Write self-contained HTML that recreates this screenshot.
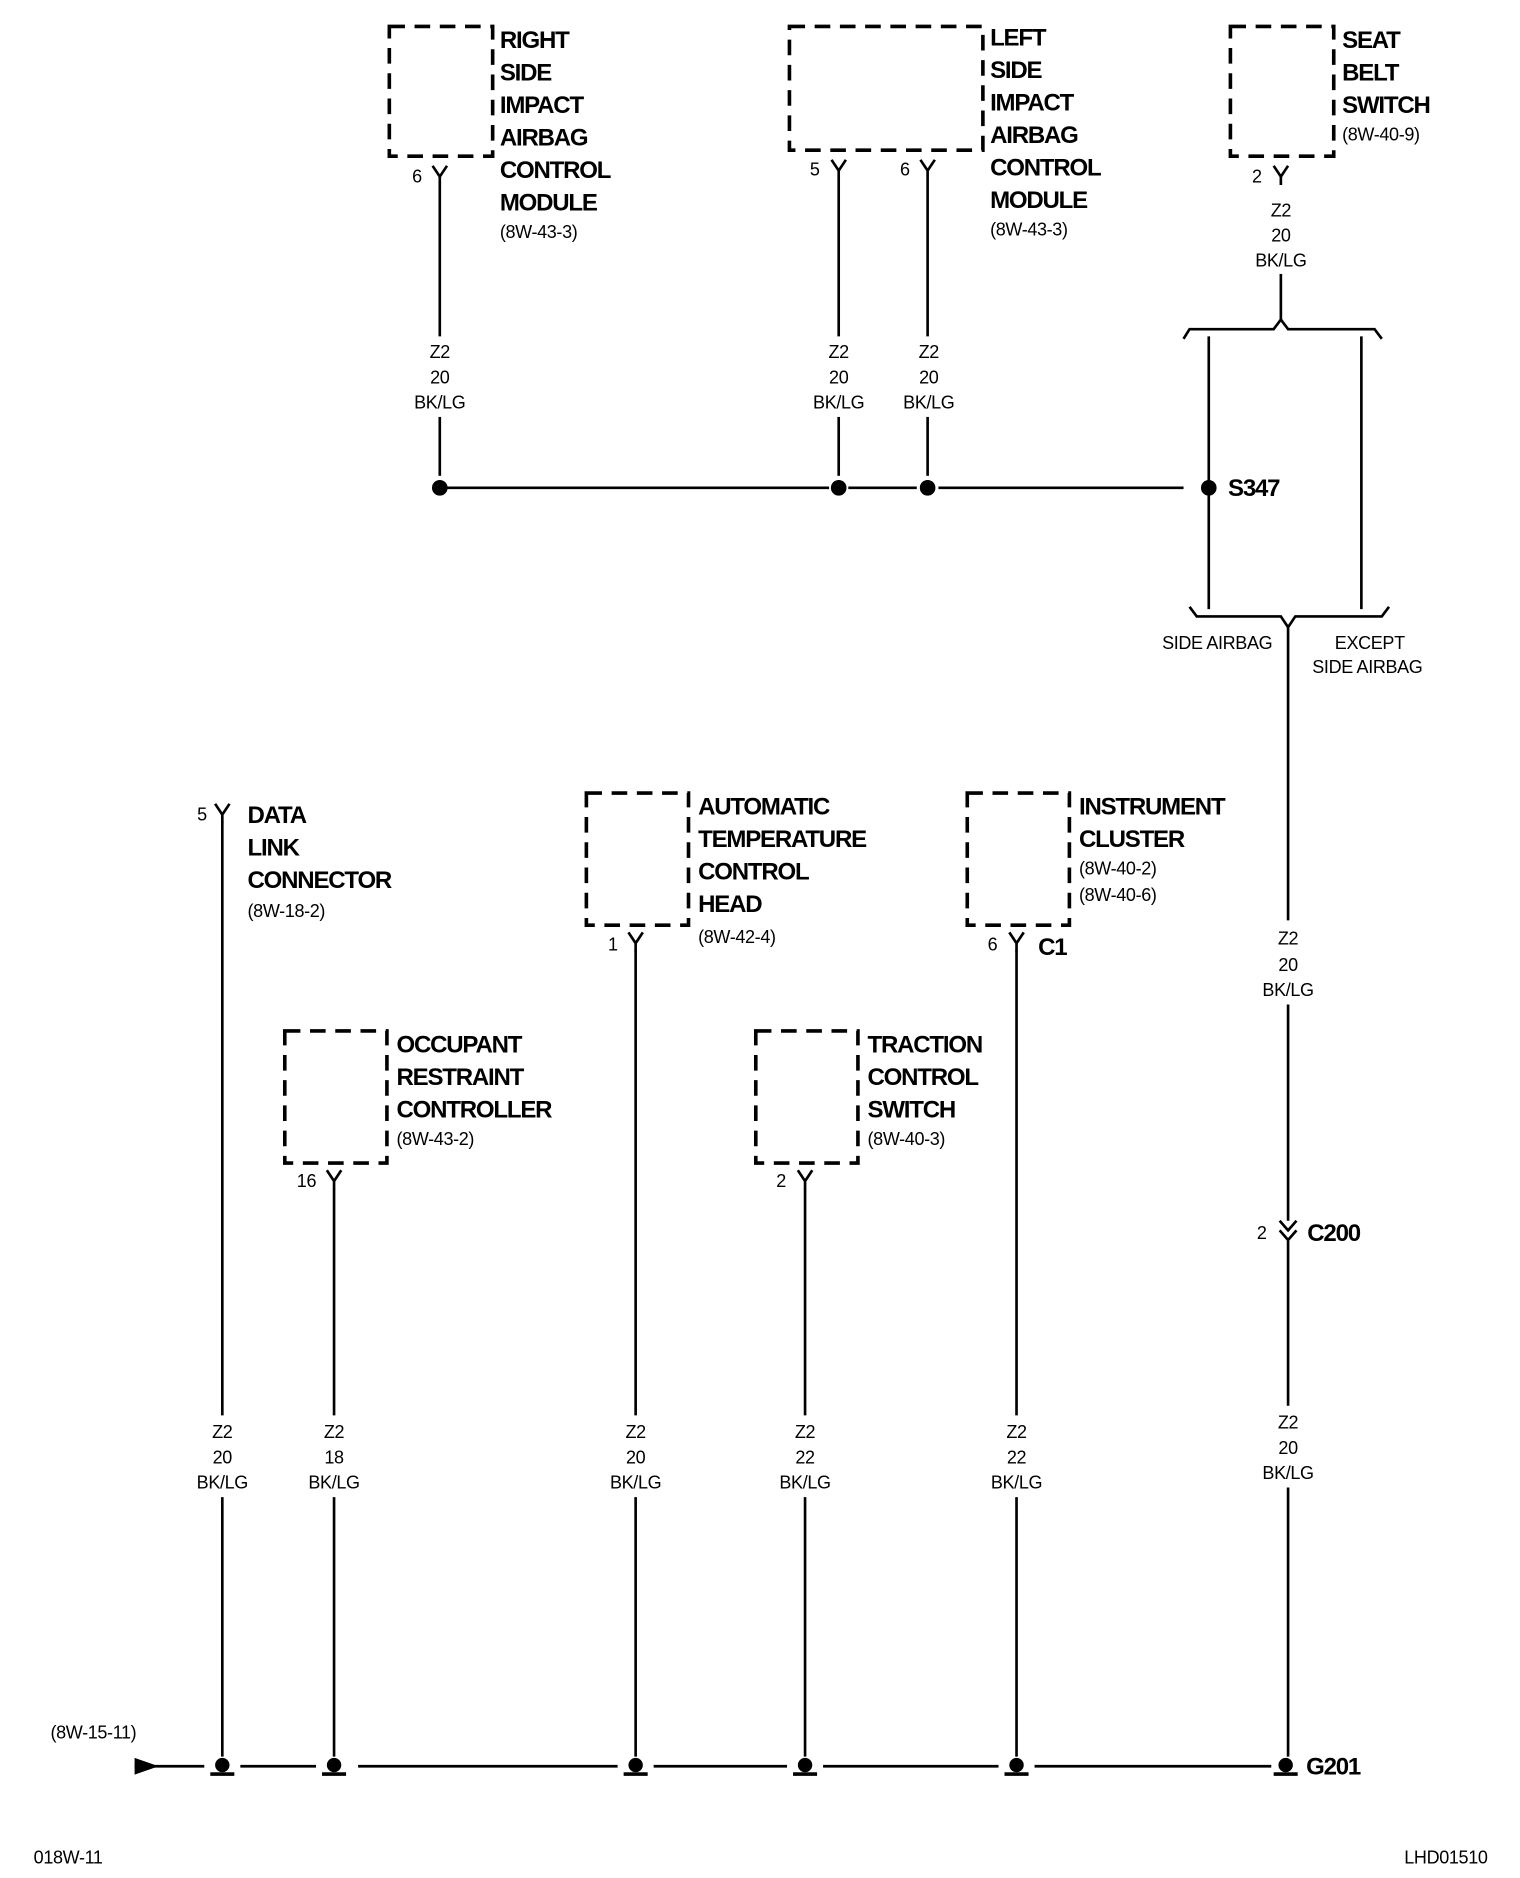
<!DOCTYPE html>
<html><head><meta charset="utf-8"><style>
html,body{margin:0;padding:0;background:#fff;}
svg{display:block;}
.t{font-family:"Liberation Sans Narrow","Liberation Sans",sans-serif;font-weight:bold;font-size:20px;letter-spacing:-1px;fill:#000;}
.s{font-family:"Liberation Sans Narrow","Liberation Sans",sans-serif;font-size:15px;fill:#000;letter-spacing:-0.3px;}
.c{text-anchor:middle;}
.box{fill:none;stroke:#000;stroke-width:3;stroke-dasharray:13 8;}
.w{stroke:#000;stroke-width:2.2;fill:none;}
</style></head><body>
<svg width="1520" height="1878" viewBox="0 0 1265 1563" xmlns="http://www.w3.org/2000/svg">
<defs>
<g id="Y"><path d="M-6,0 L0,9 L6,0 M0,9 L0,16" class="w"/></g>
<g id="G"><circle cx="0" cy="0" r="6" fill="#000"/><rect x="-10" y="6" width="20" height="3" fill="#000"/></g>
</defs>

<rect class="box" x="324" y="22" width="86" height="108"/>
<use href="#Y" x="366" y="138"/>
<text class="s" x="343" y="152">6</text>
<line class="w" x1="366" y1="154" x2="366" y2="280"/>
<text class="s c" x="366" y="298">Z2</text><text class="s c" x="366" y="319">20</text><text class="s c" x="366" y="340">BK/LG</text>
<line class="w" x1="366" y1="347" x2="366" y2="396"/>
<text class="t" x="416" y="40">RIGHT</text><text class="t" x="416" y="67">SIDE</text><text class="t" x="416" y="94">IMPACT</text><text class="t" x="416" y="121">AIRBAG</text><text class="t" x="416" y="148">CONTROL</text><text class="t" x="416" y="175">MODULE</text><text class="s" x="416" y="198">(8W-43-3)</text>

<rect class="box" x="657" y="22" width="161" height="103"/>
<use href="#Y" x="698" y="133"/><use href="#Y" x="772" y="133"/>
<text class="s" x="674" y="146">5</text><text class="s" x="749" y="146">6</text>
<line class="w" x1="698" y1="149" x2="698" y2="280"/><line class="w" x1="772" y1="149" x2="772" y2="280"/>
<text class="s c" x="698" y="298">Z2</text><text class="s c" x="698" y="319">20</text><text class="s c" x="698" y="340">BK/LG</text>
<text class="s c" x="773" y="298">Z2</text><text class="s c" x="773" y="319">20</text><text class="s c" x="773" y="340">BK/LG</text>
<line class="w" x1="698" y1="347" x2="698" y2="396"/><line class="w" x1="772" y1="347" x2="772" y2="396"/>
<text class="t" x="824" y="38">LEFT</text><text class="t" x="824" y="65">SIDE</text><text class="t" x="824" y="92">IMPACT</text><text class="t" x="824" y="119">AIRBAG</text><text class="t" x="824" y="146">CONTROL</text><text class="t" x="824" y="173">MODULE</text><text class="s" x="824" y="196">(8W-43-3)</text>

<rect class="box" x="1024" y="22" width="86" height="108"/>
<use href="#Y" x="1066" y="138"/>
<text class="s" x="1042" y="152">2</text>
<text class="s c" x="1066" y="180">Z2</text><text class="s c" x="1066" y="201">20</text><text class="s c" x="1066" y="222">BK/LG</text>
<line class="w" x1="1066" y1="228" x2="1066" y2="266"/>
<text class="t" x="1117" y="40">SEAT</text><text class="t" x="1117" y="67">BELT</text><text class="t" x="1117" y="94">SWITCH</text><text class="s" x="1117" y="117">(8W-40-9)</text>

<path class="w" d="M985,282 L990,274 L1060,274 L1066,266 L1072,274 L1144,274 L1150,282"/>
<path class="w" d="M990,505 L996,513 L1066,513 L1072,522 L1078,513 L1150,513 L1156,505"/>
<line class="w" x1="1006" y1="280" x2="1006" y2="507"/>
<line class="w" x1="1133" y1="280" x2="1133" y2="507"/>
<text class="s c" x="1013" y="540">SIDE AIRBAG</text>
<text class="s c" x="1140" y="540">EXCEPT</text><text class="s c" x="1138" y="560">SIDE AIRBAG</text>

<line class="w" x1="372" y1="406" x2="690" y2="406"/>
<line class="w" x1="706" y1="406" x2="763" y2="406"/>
<line class="w" x1="781" y1="406" x2="985" y2="406"/>
<circle cx="366" cy="406" r="6.5"/><circle cx="698" cy="406" r="6.5"/><circle cx="772" cy="406" r="6.5"/><circle cx="1006" cy="406" r="6.5"/>
<text class="t" x="1022" y="413">S347</text>

<line class="w" x1="1072" y1="522" x2="1072" y2="766"/>
<text class="s c" x="1072" y="786">Z2</text><text class="s c" x="1072" y="808">20</text><text class="s c" x="1072" y="829">BK/LG</text>
<line class="w" x1="1072" y1="836" x2="1072" y2="1016"/>
<path class="w" d="M1065,1016 L1072,1024 L1079,1016 M1065,1024 L1072,1032 L1079,1024"/>
<text class="s" x="1046" y="1031">2</text><text class="t" x="1088" y="1033">C200</text>
<line class="w" x1="1072" y1="1032" x2="1072" y2="1170"/>
<text class="s c" x="1072" y="1189">Z2</text><text class="s c" x="1072" y="1210">20</text><text class="s c" x="1072" y="1231">BK/LG</text>
<line class="w" x1="1072" y1="1238" x2="1072" y2="1462"/>

<use href="#Y" x="185" y="669"/>
<text class="s" x="164" y="683">5</text>
<line class="w" x1="185" y1="684" x2="185" y2="1178"/>
<text class="t" x="206" y="685">DATA</text><text class="t" x="206" y="712">LINK</text><text class="t" x="206" y="739">CONNECTOR</text><text class="s" x="206" y="763">(8W-18-2)</text>
<text class="s c" x="185" y="1197">Z2</text><text class="s c" x="185" y="1218">20</text><text class="s c" x="185" y="1239">BK/LG</text>
<line class="w" x1="185" y1="1246" x2="185" y2="1462"/>

<rect class="box" x="237" y="858" width="85" height="110"/>
<use href="#Y" x="278" y="974"/>
<text class="s" x="247" y="988">16</text>
<line class="w" x1="278" y1="989" x2="278" y2="1178"/>
<text class="t" x="330" y="876">OCCUPANT</text><text class="t" x="330" y="903">RESTRAINT</text><text class="t" x="330" y="930">CONTROLLER</text><text class="s" x="330" y="953">(8W-43-2)</text>
<text class="s c" x="278" y="1197">Z2</text><text class="s c" x="278" y="1218">18</text><text class="s c" x="278" y="1239">BK/LG</text>
<line class="w" x1="278" y1="1246" x2="278" y2="1462"/>

<rect class="box" x="488" y="660" width="85" height="110"/>
<use href="#Y" x="529" y="776"/>
<text class="s" x="506" y="791">1</text>
<line class="w" x1="529" y1="791" x2="529" y2="1178"/>
<text class="t" x="581" y="678">AUTOMATIC</text><text class="t" x="581" y="705">TEMPERATURE</text><text class="t" x="581" y="732">CONTROL</text><text class="t" x="581" y="759">HEAD</text><text class="s" x="581" y="785">(8W-42-4)</text>
<text class="s c" x="529" y="1197">Z2</text><text class="s c" x="529" y="1218">20</text><text class="s c" x="529" y="1239">BK/LG</text>
<line class="w" x1="529" y1="1246" x2="529" y2="1462"/>

<rect class="box" x="629" y="858" width="85" height="110"/>
<use href="#Y" x="670" y="974"/>
<text class="s" x="646" y="988">2</text>
<line class="w" x1="670" y1="989" x2="670" y2="1178"/>
<text class="t" x="722" y="876">TRACTION</text><text class="t" x="722" y="903">CONTROL</text><text class="t" x="722" y="930">SWITCH</text><text class="s" x="722" y="953">(8W-40-3)</text>
<text class="s c" x="670" y="1197">Z2</text><text class="s c" x="670" y="1218">22</text><text class="s c" x="670" y="1239">BK/LG</text>
<line class="w" x1="670" y1="1246" x2="670" y2="1462"/>

<rect class="box" x="805" y="660" width="85" height="110"/>
<use href="#Y" x="846" y="776"/>
<text class="s" x="822" y="791">6</text><text class="t" x="864" y="795">C1</text>
<line class="w" x1="846" y1="791" x2="846" y2="1178"/>
<text class="t" x="898" y="678">INSTRUMENT</text><text class="t" x="898" y="705">CLUSTER</text><text class="s" x="898" y="728">(8W-40-2)</text><text class="s" x="898" y="750">(8W-40-6)</text>
<text class="s c" x="846" y="1197">Z2</text><text class="s c" x="846" y="1218">22</text><text class="s c" x="846" y="1239">BK/LG</text>
<line class="w" x1="846" y1="1246" x2="846" y2="1462"/>

<text class="s" x="42" y="1447">(8W-15-11)</text>
<path d="M112,1463 L132,1470 L112,1477 Z" fill="#000"/>
<line class="w" x1="112" y1="1470" x2="170" y2="1470"/>
<line class="w" x1="200" y1="1470" x2="263" y2="1470"/>
<line class="w" x1="298" y1="1470" x2="514" y2="1470"/>
<line class="w" x1="544" y1="1470" x2="655" y2="1470"/>
<line class="w" x1="685" y1="1470" x2="831" y2="1470"/>
<line class="w" x1="861" y1="1470" x2="1058" y2="1470"/>
<use href="#G" x="185" y="1469"/><use href="#G" x="278" y="1469"/><use href="#G" x="529" y="1469"/><use href="#G" x="670" y="1469"/><use href="#G" x="846" y="1469"/><use href="#G" x="1070" y="1469"/>
<text class="t" x="1087" y="1477">G201</text>

<text class="s" x="28" y="1551">018W-11</text>
<text class="s" x="1238" y="1551" text-anchor="end">LHD01510</text>
</svg>
</body></html>
